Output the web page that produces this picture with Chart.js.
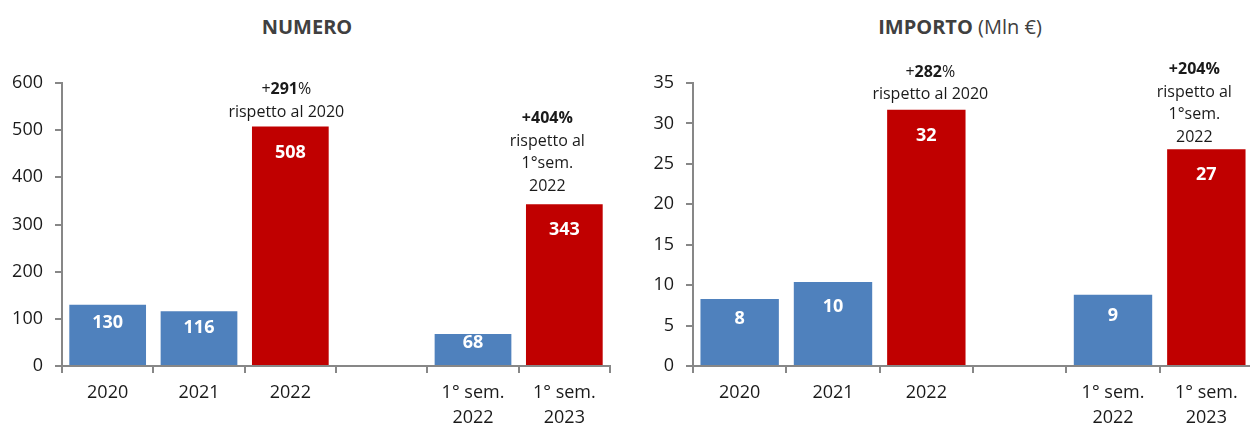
<!DOCTYPE html>
<html lang="it">
<head>
<meta charset="utf-8">
<script src="https://cdn.jsdelivr.net/npm/chart.js@4.4.0/dist/chart.umd.min.js"></script>
<style>
  html, body { margin: 0; padding: 0; background: #fff; overflow: hidden; }
  body { width: 1250px; height: 426px; position: relative; font-family: 'Open Sans', sans-serif; }
  .title { position: absolute; top: 13px; font-size: 20px; color: #404040; transform: translateX(-50%); white-space: nowrap; }
  #cNumero { position: absolute; left: 0; top: 0; }
  #cImporto { position: absolute; left: 625px; top: 0; }
</style>
</head>
<body>
<div class="title" style="left:307px"><b>NUMERO</b></div>
<div class="title" style="left:960px"><b>IMPORTO</b> (Mln €)</div>
<canvas id="cNumero" width="625" height="426"></canvas>
<canvas id="cImporto" width="640" height="426"></canvas>
<script>
// dati
const categories = ['2020', '2021', '2022', '', ['1° sem.', '2022'], ['1° sem.', '2023']];
const numeroValues = [130, 116, 508, null, 68, 343];
const importoValues = [8.3, 10.4, 31.7, null, 8.8, 26.8];

// note sopra le barre rosse (**testo** = grassetto)
const numeroNote2022 = ['+**291**%', 'rispetto al 2020'];
const numeroNoteSem = ['**+404%**', 'rispetto al', '1°sem.', '2022'];
const importoNote2022 = ['+**282**%', 'rispetto al 2020'];
const importoNoteSem = ['**+204%**', 'rispetto al', '1°sem.', '2022'];

const BLUE = '#4F81BD';
const RED = '#C00000';
const barColors = [BLUE, BLUE, RED, BLUE, BLUE, RED];
const AXIS = '#878787';
const TEXT = '#1a1a1a';

Chart.defaults.font.family = "'Open Sans', sans-serif";

// etichette dentro le barre + note
const barLabels = {
    id: 'barLabels',
    afterDatasetsDraw(chart, args, opts) {
        const { ctx } = chart;
        const meta = chart.getDatasetMeta(0);
        const values = chart.data.datasets[0].data;
        ctx.save();
        ctx.fillStyle = '#fff';
        ctx.font = "bold 18px 'Open Sans'";
        ctx.textAlign = 'center';
        ctx.textBaseline = 'middle';
        meta.data.forEach((bar, i) => {
            if (values[i] == null) return;
            const h = bar.base - bar.y;
            ctx.fillText(Math.round(values[i]), bar.x, bar.y + Math.min(26, h * 0.3));
        });

        ctx.fillStyle = TEXT;
        ctx.textAlign = 'left';
        (opts.notes || []).forEach(note => {
            const bar = meta.data[note.index];
            const n = note.lines.length;
            note.lines.forEach((line, li) => {
                const y = bar.y - note.gap - (n - 1 - li) * 22.5;
                const parts = line.split('**');
                const fonts = parts.map((_, k) => (k % 2 ? 'bold ' : '') + "16px 'Open Sans'");
                let total = 0;
                parts.forEach((p, k) => { ctx.font = fonts[k]; total += ctx.measureText(p).width; });
                let x = bar.x + note.dx - total / 2;
                parts.forEach((p, k) => {
                    ctx.font = fonts[k];
                    ctx.fillText(p, x, y);
                    x += ctx.measureText(p).width;
                });
            });
        });
        ctx.restore();
    }
};

const makeChart = (id, values, yMax, step, axisWidth, padRight, notes) => {
    const ctx = document.getElementById(id).getContext('2d');
    return new Chart(ctx, {
        type: 'bar',
        data: {
            labels: categories,
            datasets: [{
                data: values,
                backgroundColor: barColors,
                borderWidth: 0,
                categoryPercentage: 1,
                barPercentage: 0.84
            }]
        },
        options: {
            responsive: false,
            animation: false,
            layout: { padding: { top: 83, right: padRight, left: 0, bottom: 0 } },
            plugins: {
                legend: { display: false },
                tooltip: { enabled: false },
                barLabels: { notes }
            },
            scales: {
                x: {
                    afterFit: s => { s.height = 60; },
                    grid: { drawOnChartArea: false, drawTicks: true, tickLength: 7, color: AXIS, lineWidth: 2, offset: true },
                    border: { display: true, color: AXIS, width: 2 },
                    ticks: { color: TEXT, font: { size: 18, lineHeight: 1.35 }, padding: 8, maxRotation: 0, autoSkip: false }
                },
                y: {
                    min: 0,
                    max: yMax,
                    afterFit: s => { s.width = axisWidth; },
                    grid: { drawOnChartArea: false, drawTicks: true, tickLength: 7, color: AXIS, lineWidth: 2 },
                    border: { display: true, color: AXIS, width: 2 },
                    ticks: { stepSize: step, color: TEXT, font: { size: 18 }, padding: 12 }
                }
            }
        },
        plugins: [barLabels]
    });
};

makeChart('cNumero', numeroValues, 600, 100, 62, 15, [
    { index: 2, lines: numeroNote2022, dx: -4, gap: 14 },
    { index: 5, lines: numeroNoteSem, dx: -17, gap: 18 }
]);
makeChart('cImporto', importoValues, 35, 5, 68, 12, [
    { index: 2, lines: importoNote2022, dx: 4, gap: 15 },
    { index: 5, lines: importoNoteSem, dx: -12, gap: 12 }
]);
</script>
</body>
</html>
